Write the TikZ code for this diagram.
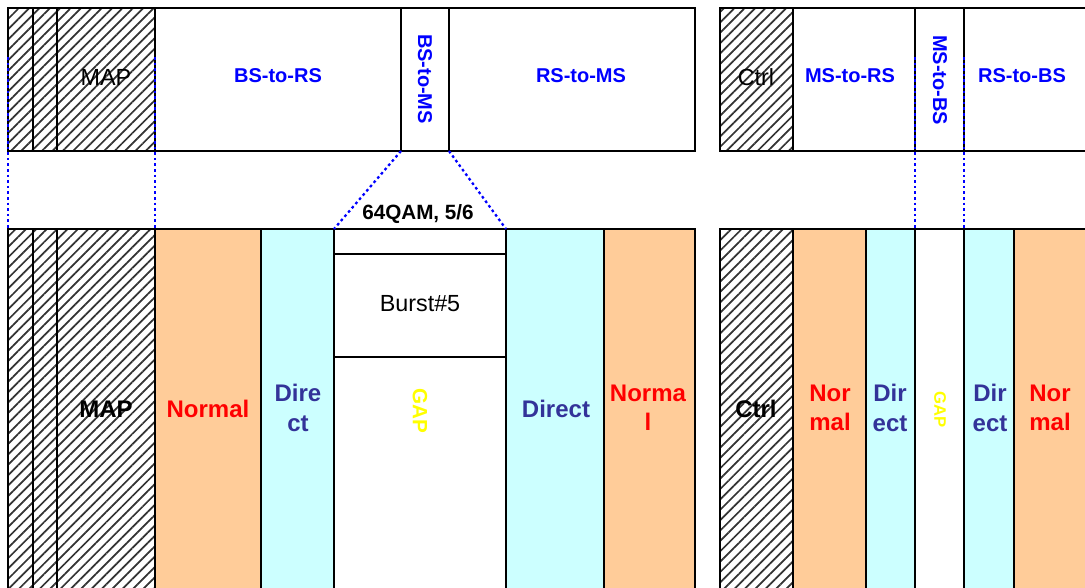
\documentclass[tikz,border=0pt]{standalone}
\usepackage{fontspec}
\setmainfont{Liberation Sans}
\usetikzlibrary{patterns.meta}
\definecolor{slotorange}{HTML}{FFCC99}
\definecolor{slotcyan}{HTML}{CCFFFF}
\definecolor{linkblue}{HTML}{0000FF}
\definecolor{navytext}{HTML}{333399}
\definecolor{gapyellow}{HTML}{FFFF00}

\begin{document}
\begin{tikzpicture}[x=0.75pt, y=-0.75pt,
    cell/.style={draw=black, line width=1.3pt},
    hatch/.style={cell, pattern={Lines[angle=45, distance=5.5pt, line width=1.3pt]}, pattern color=black!80},
    normalcell/.style={cell, fill=slotorange},
    directcell/.style={cell, fill=slotcyan},
    link/.style={draw=linkblue, dash pattern=on 2pt off 2.2pt, line width=1.7pt},
    toplabel/.style={font=\bfseries\fontsize{15}{18}\selectfont, text=linkblue},
    plainlabel/.style={font=\fontsize{17.5}{21}\selectfont},
    biglabel/.style={font=\bfseries\fontsize{18}{22}\selectfont, align=center}]
    \clip (0,0) rectangle (1085,587);
    % upper frame
    \draw[hatch] (8,8) rectangle (33,151);
    \draw[hatch] (33,8) rectangle (57,151);
    \draw[hatch] (57,8) rectangle (155,151);
    \draw[cell] (155,8) rectangle (401,151);
    \draw[cell] (401,8) rectangle (449,151);
    \draw[cell] (449,8) rectangle (695,151);
    \node[plainlabel] (mapup) at (106,77) {MAP};
    \node[toplabel] (bsrs) at (278,76) {BS-to-RS};
    \node[toplabel, rotate=-90] (bsms) at (425,79) {BS-to-MS};
    \node[toplabel] (rsms) at (581,76) {RS-to-MS};
    \draw[hatch] (720,8) rectangle (793,151);
    \draw[cell] (793,8) rectangle (915,151);
    \draw[cell] (915,8) rectangle (964,151);
    \draw[cell] (964,8) rectangle (1100,151);
    \node[plainlabel] (ctrlup) at (756,77) {Ctrl};
    \node[toplabel] (msrs) at (850,76) {MS-to-RS};
    \node[toplabel, rotate=-90] (msbs) at (940,80) {MS-to-BS};
    \node[toplabel] (rsbs) at (1022,76) {RS-to-BS};
    % lower frame
    \draw[hatch] (8,229) rectangle (33,600);
    \draw[hatch] (33,229) rectangle (57,600);
    \draw[hatch] (57,229) rectangle (155,600);
    \draw[normalcell] (155,229) rectangle (261,600);
    \draw[directcell] (261,229) rectangle (334,600);
    \draw[cell] (334,229) rectangle (506,254);
    \draw[cell] (334,254) rectangle (506,357);
    \draw[cell] (334,357) rectangle (506,600);
    \draw[directcell] (506,229) rectangle (604,600);
    \draw[normalcell] (604,229) rectangle (695,600);
    \node[biglabel] (maplow) at (106,409) {MAP};
    \node[biglabel, text=red] (normal1) at (208,409) {Normal};
    \node[biglabel, text=navytext] (direct1) at (298,408) {Dire\\ct};
    \node[font=\bfseries\fontsize{15.5}{18}\selectfont] (mcs) at (418,214) {64QAM, 5/6};
    \node[plainlabel] (burst) at (420,304) {Burst\#5};
    \node[biglabel, text=gapyellow, rotate=-90, font=\bfseries\fontsize{15.5}{18}\selectfont] (gap1) at (420,411) {GAP};
    \node[biglabel, text=navytext] (direct2) at (556,409) {Direct};
    \node[biglabel, text=red] (normal2) at (648,408) {Norma\\l};
    \draw[hatch] (720,229) rectangle (793,600);
    \draw[normalcell] (793,229) rectangle (866,600);
    \draw[directcell] (866,229) rectangle (915,600);
    \draw[cell] (915,229) rectangle (964,600);
    \draw[directcell] (964,229) rectangle (1014,600);
    \draw[normalcell] (1014,229) rectangle (1100,600);
    \node[biglabel] (ctrllow) at (756,409) {Ctrl};
    \node[biglabel, text=red] (normal3) at (830,408) {Nor\\mal};
    \node[biglabel, text=navytext] (direct3) at (890,408) {Dir\\ect};
    \node[text=gapyellow, rotate=-90, font=\bfseries\fontsize{12.5}{15}\selectfont] (gap2) at (940,410) {GAP};
    \node[biglabel, text=navytext] (direct4) at (990,408) {Dir\\ect};
    \node[biglabel, text=red] (normal4) at (1050,408) {Nor\\mal};
    % zoom lines
    \coordinate (mapa-top) at (8,57);
    \coordinate (mapa-bot) at (8,229);
    \coordinate (mapb-top) at (155,57);
    \coordinate (mapb-bot) at (155,229);
    \coordinate (bsms-sw) at (401,151);
    \coordinate (bsms-se) at (449,151);
    \coordinate (burst-nw) at (334,229);
    \coordinate (burst-ne) at (506,229);
    \coordinate (msbs-wtop) at (915,57);
    \coordinate (msbs-wbot) at (915,229);
    \coordinate (msbs-etop) at (964,57);
    \coordinate (msbs-ebot) at (964,229);
    \draw[link] (mapa-top) -- (mapa-bot);
    \draw[link] (mapb-top) -- (mapb-bot);
    \draw[link] (bsms-sw) -- (burst-nw);
    \draw[link] (bsms-se) -- (burst-ne);
    \draw[link] (msbs-wtop) -- (msbs-wbot);
    \draw[link] (msbs-etop) -- (msbs-ebot);
\end{tikzpicture}
\end{document}
